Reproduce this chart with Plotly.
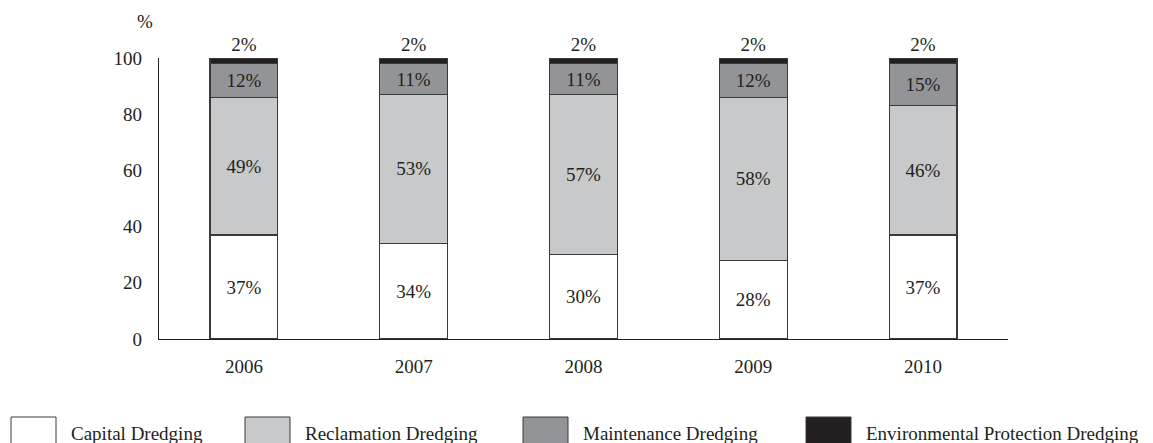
import plotly.graph_objects as go

years = ["2006", "2007", "2008", "2009", "2010"]
capital = [37, 34, 30, 28, 37]
reclamation = [49, 53, 57, 58, 46]
maintenance = [12, 11, 11, 12, 15]
environmental = [2, 2, 2, 2, 2]

series_names = [
    "Capital Dredging",
    "Reclamation Dredging",
    "Maintenance Dredging",
    "Environmental Protection Dredging",
]
series_values = [capital, reclamation, maintenance, environmental]
fills = ["#ffffff", "#c8c9cb", "#939497", "#231f20"]

FONT = "Liberation Serif"
INK = "#231f20"
FS = 19

fig = go.Figure()
for name, vals, col in zip(series_names, series_values, fills):
    is_top = name == series_names[-1]
    fig.add_trace(go.Bar(
        x=years,
        y=vals,
        name=name,
        marker=dict(color=col, line=dict(color="#3a3a3a", width=1.2)),
        text=vals,
        texttemplate="%{y}%",
        textposition="outside" if is_top else "inside",
        insidetextanchor="middle",
        constraintext="none",
        cliponaxis=False,
        textfont=dict(family=FONT, size=FS, color=INK),
        hoverinfo="skip",
    ))

# Legend drawn as boxes with captions along the bottom
legend_x = [11, 245, 523, 806]
for name, col, x0 in zip(series_names, fills, legend_x):
    fig.add_shape(
        type="rect", xref="paper", yref="paper",
        x0=(x0 - 159) / 849, x1=(x0 + 45 - 159) / 849,
        y0=(339 - 446) / 281, y1=(339 - 417) / 281,
        fillcolor=col, line=dict(color="#3a3a3a", width=1),
    )
    fig.add_annotation(
        xref="paper", yref="paper",
        x=(x0 + 58 - 159) / 849, y=(339 - 433) / 281,
        text=name, showarrow=False, xanchor="left", yanchor="middle",
        font=dict(family=FONT, size=FS, color=INK),
    )

# Unit label above the value axis
fig.add_annotation(
    xref="paper", yref="paper", x=(145 - 159) / 849, y=(339 - 22) / 281,
    text="%", showarrow=False, xanchor="center", yanchor="middle",
    font=dict(family=FONT, size=FS, color=INK),
)

fig.update_layout(
    barmode="stack",
    bargap=0.6,
    width=1153,
    height=443,
    margin=dict(l=159, r=145, t=58, b=104),
    paper_bgcolor="white",
    plot_bgcolor="white",
    showlegend=False,
    font=dict(family=FONT, size=FS, color=INK),
)
fig.update_xaxes(
    showline=True, linecolor=INK, linewidth=1.2,
    showgrid=False, ticks="", ticklabelstandoff=10,
    tickfont=dict(family=FONT, size=FS, color=INK),
)
fig.update_yaxes(
    range=[0, 100], tickvals=[0, 20, 40, 60, 80, 100],
    showline=True, linecolor=INK, linewidth=1.2,
    showgrid=False, zeroline=False, ticks="", ticklabelstandoff=12,
    tickfont=dict(family=FONT, size=FS, color=INK),
)

fig.write_html("out.html")
